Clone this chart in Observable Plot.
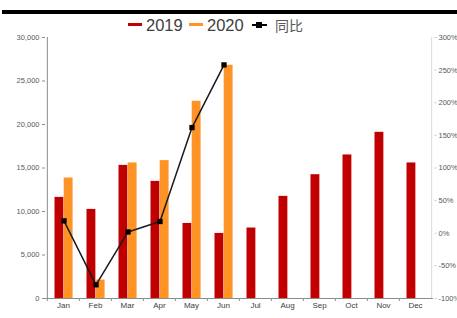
<!DOCTYPE html>
<html><head><meta charset="utf-8">
<script src="https://cdn.jsdelivr.net/npm/d3@7"></script>
<script src="https://cdn.jsdelivr.net/npm/@observablehq/plot@0.6"></script>
<style>
body{margin:0;background:#fff;}
#wrap{position:relative;width:457px;height:318px;overflow:hidden;font-family:"Liberation Sans",Arial,sans-serif;background:#fff;}
#chart{position:absolute;left:0;top:0;}
#topbar{position:absolute;left:2px;top:10px;width:455px;height:4px;background:#000;}
#legend{position:absolute;left:0;top:14px;width:457px;height:22px;}
#legend .sw{position:absolute;top:22px;height:3px;width:14px;}
#legend .lt{position:absolute;top:0px;font-size:16.5px;line-height:22px;color:#404040;white-space:nowrap;}
#legend .cjk{font-family:"Noto Sans CJK SC",sans-serif;font-size:14px;color:#595959;}
</style></head><body>
<div id="wrap"><div id="chart"></div><div id="topbar"></div><div id="legend"></div></div>
<script>
const months = ["Jan","Feb","Mar","Apr","May","Jun","Jul","Aug","Sep","Oct","Nov","Dec"];
const sales2019 = [11620,10240,15300,13460,8630,7480,8100,11740,14230,16500,19100,15580];
const sales2020 = [13850,2120,15580,15850,22670,26810];
const yoyPct = [19,-79,2,18,162,258];
const leftTicks = [0,5000,10000,15000,20000,25000,30000];
const rightTicks = [-100,-50,0,50,100,150,200,250,300];
const seriesNames = ["2019","2020","同比"];
const red = "#C00000", orange = "#FF9326";

const W = 457, H = 318, mL = 45, mR = 24;
const bw = (W - mL - mR) / months.length;

const bars2019 = sales2019.map((v,i)=>({month:months[i], v}));
const bars2020 = sales2020.map((v,i)=>({month:months[i], v}));
// right axis (-100%..300%) mapped onto the left axis domain (0..30000)
const toLeft = p => (p + 100) * 75;
const yoy = yoyPct.map((p,i)=>({month:months[i], y:toLeft(p)}));

const chart = Plot.plot({
  width: W, height: H,
  marginLeft: mL, marginRight: mR, marginTop: 37, marginBottom: 20,
  style: {fontFamily: "Liberation Sans, Arial, sans-serif", fontSize: "7.5px", color: "#595959", background: "transparent"},
  x: {domain: months, padding: 0, label: null},
  y: {domain: [0, 30000], label: null},
  marks: [
    Plot.barY(bars2019, {x: "month", y: "v", fill: red, insetLeft: 7.5, insetRight: bw - 16.7}),
    Plot.barY(bars2020, {x: "month", y: "v", fill: orange, insetLeft: 16.7, insetRight: bw - 25.9}),
    Plot.ruleX([months[0]], {dx: -bw/2, stroke: "#8c8c8c", strokeWidth: 1}),
    Plot.ruleX([months[months.length-1]], {dx: bw/2, stroke: "#d9d9d9", strokeWidth: 1}),
    Plot.ruleY([0], {stroke: "#8c8c8c", strokeWidth: 1}),
    Plot.axisY({ticks: leftTicks, tickFormat: d3.format(","), tickSize: 3, tickPadding: 3, stroke: "#8c8c8c", fill: "#595959", label: null}),
    Plot.axisY({anchor: "right", ticks: rightTicks.map(toLeft), tickFormat: v => Math.round(v/75 - 100) + "%", tickSize: 3, tickPadding: 2, stroke: "#d9d9d9", fill: "#595959", label: null}),
    Plot.axisX({tickSize: 3, tickFormat: () => "", dx: -bw/2, stroke: "#8c8c8c", label: null}),
    Plot.axisX({tickSize: 0, tickPadding: 4, fontSize: 8, fill: "#404040", label: null}),
    Plot.line(yoy, {x: "month", y: "y", stroke: "#1a1a1a", strokeWidth: 1.5, dx: 0.5}),
    Plot.dot(yoy, {x: "month", y: "y", symbol: "square", fill: "#000", stroke: "none", r: 3, dx: 0.5})
  ]
});
document.getElementById("chart").appendChild(chart);

// legend
const lg = document.getElementById("legend");
const items = [
  {name: seriesNames[0], color: red, sw: 128, tx: 146},
  {name: seriesNames[1], color: orange, sw: 189, tx: 207},
  {name: seriesNames[2], color: "#000", sw: 252, tx: 275, marker: true}
];
items.forEach(it => {
  const s = document.createElement("span");
  s.className = "sw";
  s.style.left = it.sw + "px";
  s.style.background = it.color;
  if (it.marker) { s.style.height = "2px"; s.style.width = "15px"; s.style.top = "10px"; }
  else { s.style.top = "9px"; }
  lg.appendChild(s);
  if (it.marker) {
    const m = document.createElement("span");
    m.style.cssText = "position:absolute;left:256px;top:8px;width:6px;height:6px;background:#000;";
    lg.appendChild(m);
  }
  const t = document.createElement("span");
  t.className = "lt" + (it.marker ? " cjk" : "");
  t.style.left = it.tx + "px";
  t.textContent = it.name;
  lg.appendChild(t);
});
</script>
</body></html>
